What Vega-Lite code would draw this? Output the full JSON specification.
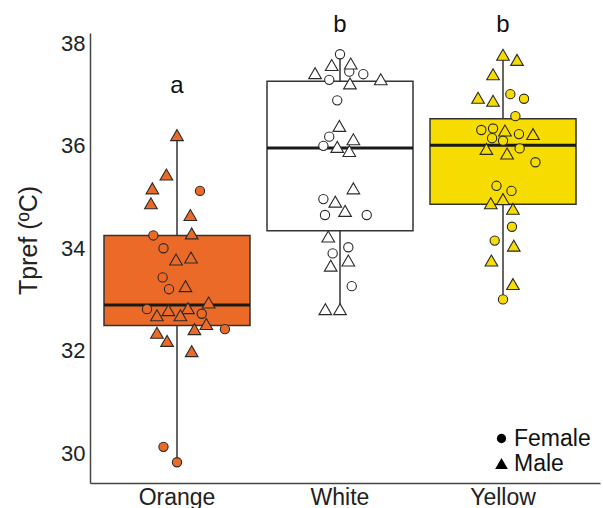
{
  "$schema": "https://vega.github.io/schema/vega-lite/v6.json",
  "autosize": {"type": "none"},
  "padding": {"left": 90, "top": 33, "right": 3, "bottom": 25},
  "width": 510,
  "height": 450,
  "background": "white",
  "config": {
    "view": {"stroke": null},
    "font": "Liberation Sans",
    "axis": {"domainColor": "#444", "domainWidth": 1.5, "ticks": false, "grid": false, "labelFont": "Liberation Sans", "labelFontSize": 22, "labelColor": "#222", "titleFont": "Liberation Sans", "titleColor": "#222", "titleFontWeight": "normal", "titleFontSize": 25},
    "legend": {"labelFont": "Liberation Sans"}
  },
  "datasets": {
    "boxes": [
      {"g": "Orange", "lo": 29.82, "q1": 32.49, "med": 32.89, "q3": 34.25, "hi": 36.21},
      {"g": "White", "lo": 32.81, "q1": 34.34, "med": 35.96, "q3": 37.26, "hi": 37.79},
      {"g": "Yellow", "lo": 33.00, "q1": 34.86, "med": 36.01, "q3": 36.53, "hi": 37.78}
    ],
    "letters": [
      {"g": "Orange", "t": 37.03, "txt": "a"},
      {"g": "White", "t": 38.22, "txt": "b"},
      {"g": "Yellow", "t": 38.22, "txt": "b"}
    ],
    "points": [
      {"g": "Orange", "sex": "Male", "t": 36.21, "j": 0},
      {"g": "Orange", "sex": "Male", "t": 35.44, "j": -0.065},
      {"g": "Orange", "sex": "Male", "t": 35.17, "j": -0.151},
      {"g": "Orange", "sex": "Male", "t": 34.88, "j": -0.16},
      {"g": "Orange", "sex": "Male", "t": 34.65, "j": 0.082},
      {"g": "Orange", "sex": "Male", "t": 34.29, "j": 0.09},
      {"g": "Orange", "sex": "Male", "t": 33.78, "j": -0.006},
      {"g": "Orange", "sex": "Male", "t": 33.82, "j": 0.086},
      {"g": "Orange", "sex": "Male", "t": 33.26, "j": 0.052},
      {"g": "Orange", "sex": "Male", "t": 32.94, "j": 0.194},
      {"g": "Orange", "sex": "Male", "t": 32.79, "j": -0.053},
      {"g": "Orange", "sex": "Male", "t": 32.83, "j": 0.067},
      {"g": "Orange", "sex": "Male", "t": 32.69, "j": -0.123},
      {"g": "Orange", "sex": "Male", "t": 32.69, "j": 0.021},
      {"g": "Orange", "sex": "Male", "t": 32.52, "j": 0.18},
      {"g": "Orange", "sex": "Male", "t": 32.42, "j": 0.107},
      {"g": "Orange", "sex": "Male", "t": 32.35, "j": -0.123},
      {"g": "Orange", "sex": "Male", "t": 32.19, "j": -0.061},
      {"g": "Orange", "sex": "Male", "t": 31.99, "j": 0.09},
      {"g": "Orange", "sex": "Female", "t": 35.12, "j": 0.141},
      {"g": "Orange", "sex": "Female", "t": 34.25, "j": -0.145},
      {"g": "Orange", "sex": "Female", "t": 34.0, "j": -0.083},
      {"g": "Orange", "sex": "Female", "t": 33.43, "j": -0.088},
      {"g": "Orange", "sex": "Female", "t": 33.2, "j": -0.049},
      {"g": "Orange", "sex": "Female", "t": 32.81, "j": -0.184},
      {"g": "Orange", "sex": "Female", "t": 32.72, "j": 0.152},
      {"g": "Orange", "sex": "Female", "t": 32.42, "j": 0.294},
      {"g": "Orange", "sex": "Female", "t": 30.12, "j": -0.083},
      {"g": "Orange", "sex": "Female", "t": 29.82, "j": 0},
      {"g": "White", "sex": "Female", "t": 37.79, "j": 0},
      {"g": "White", "sex": "Female", "t": 37.45, "j": 0.057},
      {"g": "White", "sex": "Female", "t": 37.4, "j": 0.143},
      {"g": "White", "sex": "Female", "t": 37.29, "j": -0.066},
      {"g": "White", "sex": "Female", "t": 36.89, "j": -0.017},
      {"g": "White", "sex": "Female", "t": 36.18, "j": -0.066},
      {"g": "White", "sex": "Female", "t": 36.0, "j": -0.102},
      {"g": "White", "sex": "Female", "t": 34.96, "j": -0.102},
      {"g": "White", "sex": "Female", "t": 34.65, "j": -0.092},
      {"g": "White", "sex": "Female", "t": 34.65, "j": 0.164},
      {"g": "White", "sex": "Female", "t": 34.02, "j": 0.051},
      {"g": "White", "sex": "Female", "t": 33.9, "j": -0.045},
      {"g": "White", "sex": "Female", "t": 33.26, "j": 0.072},
      {"g": "White", "sex": "Male", "t": 37.58, "j": -0.051},
      {"g": "White", "sex": "Male", "t": 37.61, "j": 0.066},
      {"g": "White", "sex": "Male", "t": 37.42, "j": -0.153},
      {"g": "White", "sex": "Male", "t": 37.3, "j": 0.25},
      {"g": "White", "sex": "Male", "t": 37.22, "j": 0.061},
      {"g": "White", "sex": "Male", "t": 36.39, "j": -0.004},
      {"g": "White", "sex": "Male", "t": 36.13, "j": 0.082},
      {"g": "White", "sex": "Male", "t": 35.98, "j": -0.017},
      {"g": "White", "sex": "Male", "t": 35.9, "j": 0.057},
      {"g": "White", "sex": "Male", "t": 35.17, "j": 0.082},
      {"g": "White", "sex": "Male", "t": 34.91, "j": -0.029},
      {"g": "White", "sex": "Male", "t": 34.73, "j": 0.031},
      {"g": "White", "sex": "Male", "t": 34.23, "j": -0.072},
      {"g": "White", "sex": "Male", "t": 33.76, "j": 0.051},
      {"g": "White", "sex": "Male", "t": 33.66, "j": -0.057},
      {"g": "White", "sex": "Male", "t": 32.81, "j": -0.09},
      {"g": "White", "sex": "Male", "t": 32.81, "j": 0},
      {"g": "Yellow", "sex": "Male", "t": 37.78, "j": 0},
      {"g": "Yellow", "sex": "Male", "t": 37.68, "j": 0.086},
      {"g": "Yellow", "sex": "Male", "t": 37.4, "j": -0.061},
      {"g": "Yellow", "sex": "Male", "t": 36.94, "j": -0.153},
      {"g": "Yellow", "sex": "Male", "t": 36.88, "j": -0.061},
      {"g": "Yellow", "sex": "Male", "t": 36.3, "j": 0.012},
      {"g": "Yellow", "sex": "Male", "t": 36.23, "j": 0.184},
      {"g": "Yellow", "sex": "Male", "t": 35.94, "j": -0.102},
      {"g": "Yellow", "sex": "Male", "t": 35.85, "j": 0.025},
      {"g": "Yellow", "sex": "Male", "t": 34.88, "j": -0.075},
      {"g": "Yellow", "sex": "Male", "t": 34.96, "j": 0},
      {"g": "Yellow", "sex": "Male", "t": 34.77, "j": 0.061},
      {"g": "Yellow", "sex": "Male", "t": 34.05, "j": 0.066},
      {"g": "Yellow", "sex": "Male", "t": 33.76, "j": -0.071},
      {"g": "Yellow", "sex": "Male", "t": 33.3, "j": 0.061},
      {"g": "Yellow", "sex": "Female", "t": 37.01, "j": 0.045},
      {"g": "Yellow", "sex": "Female", "t": 36.92, "j": 0.129},
      {"g": "Yellow", "sex": "Female", "t": 36.58, "j": 0.076},
      {"g": "Yellow", "sex": "Female", "t": 36.31, "j": -0.133},
      {"g": "Yellow", "sex": "Female", "t": 36.34, "j": -0.061},
      {"g": "Yellow", "sex": "Female", "t": 36.23, "j": 0.098},
      {"g": "Yellow", "sex": "Female", "t": 36.15, "j": -0.067},
      {"g": "Yellow", "sex": "Female", "t": 36.1, "j": 0},
      {"g": "Yellow", "sex": "Female", "t": 35.95, "j": 0.102},
      {"g": "Yellow", "sex": "Female", "t": 35.68, "j": 0.199},
      {"g": "Yellow", "sex": "Female", "t": 35.22, "j": -0.04},
      {"g": "Yellow", "sex": "Female", "t": 35.12, "j": 0.052},
      {"g": "Yellow", "sex": "Female", "t": 34.42, "j": 0.055},
      {"g": "Yellow", "sex": "Female", "t": 34.15, "j": -0.051},
      {"g": "Yellow", "sex": "Female", "t": 33.0, "j": 0}
    ]
  },
  "layer": [
    {
      "data": {"name": "boxes"},
      "mark": {"type": "rule", "color": "#333", "strokeWidth": 1.5},
      "encoding": {
        "x": {"field": "g", "type": "nominal", "title": null, "sort": ["Orange", "White", "Yellow"],
              "scale": {"domain": ["Orange", "White", "Yellow"], "paddingInner": 0, "paddingOuter": 0.0644, "align": 0.262},
              "axis": {"labelAngle": 0, "labelPadding": 3, "labelFontSize": 23}},
        "y": {"field": "lo", "type": "quantitative", "title": "Tpref (ºC)",
              "scale": {"domain": [29.414, 38.205], "nice": false, "zero": false},
              "axis": {"values": [30, 32, 34, 36, 38], "labelPadding": 5, "titleX": -62, "titleY": 207, "titleAngle": -90, "titleAlign": "center", "titleBaseline": "middle"}},
        "y2": {"field": "hi"}
      }
    },
    {
      "data": {"name": "boxes"},
      "mark": {"type": "bar", "stroke": "#333", "strokeWidth": 1.5, "width": 146, "opacity": 1},
      "encoding": {
        "x": {"field": "g", "type": "nominal"},
        "y": {"field": "q3", "type": "quantitative"},
        "y2": {"field": "q1"},
        "fill": {"field": "g", "type": "nominal", "legend": null,
                 "scale": {"domain": ["Orange", "White", "Yellow"], "range": ["#EC6A27", "#FFFFFF", "#F6DC00"]}}
      }
    },
    {
      "data": {"name": "boxes"},
      "mark": {"type": "tick", "color": "#1a1a1a", "opacity": 1, "thickness": 3, "size": 146, "orient": "horizontal"},
      "encoding": {
        "x": {"field": "g", "type": "nominal"},
        "y": {"field": "med", "type": "quantitative"}
      }
    },
    {
      "data": {"name": "points"},
      "mark": {"type": "point", "filled": true, "stroke": "#2a2a2a", "strokeWidth": 1.1, "opacity": 1, "fillOpacity": 1},
      "encoding": {
        "x": {"field": "g", "type": "nominal"},
        "xOffset": {"field": "j", "type": "quantitative", "scale": {"domain": [-0.5, 0.5], "range": [0, 163]}},
        "y": {"field": "t", "type": "quantitative"},
        "fill": {"field": "g", "type": "nominal", "legend": null},
        "shape": {"field": "sex", "type": "nominal", "title": null,
                  "scale": {"domain": ["Female", "Male"], "range": ["circle", "triangle-up"]},
                  "legend": {"orient": "none", "legendX": 400, "legendY": 394, "padding": 0, "symbolFillColor": "#000", "symbolStrokeColor": "#000", "symbolStrokeWidth": 0, "labelFontSize": 23, "labelColor": "#111", "labelOffset": 1, "rowPadding": 1}},
        "size": {"field": "sex", "type": "nominal", "title": null,
                 "scale": {"domain": ["Female", "Male"], "range": [86, 160]},
                 "legend": {"orient": "none", "legendX": 400, "legendY": 394, "padding": 0, "symbolFillColor": "#000", "symbolStrokeColor": "#000", "symbolStrokeWidth": 0, "labelFontSize": 23, "labelColor": "#111", "labelOffset": 1, "rowPadding": 1}}
      }
    },
    {
      "data": {"name": "letters"},
      "mark": {"type": "text", "fontSize": 24, "baseline": "alphabetic", "color": "#111"},
      "encoding": {
        "x": {"field": "g", "type": "nominal"},
        "y": {"field": "t", "type": "quantitative"},
        "text": {"field": "txt"}
      }
    }
  ]
}
